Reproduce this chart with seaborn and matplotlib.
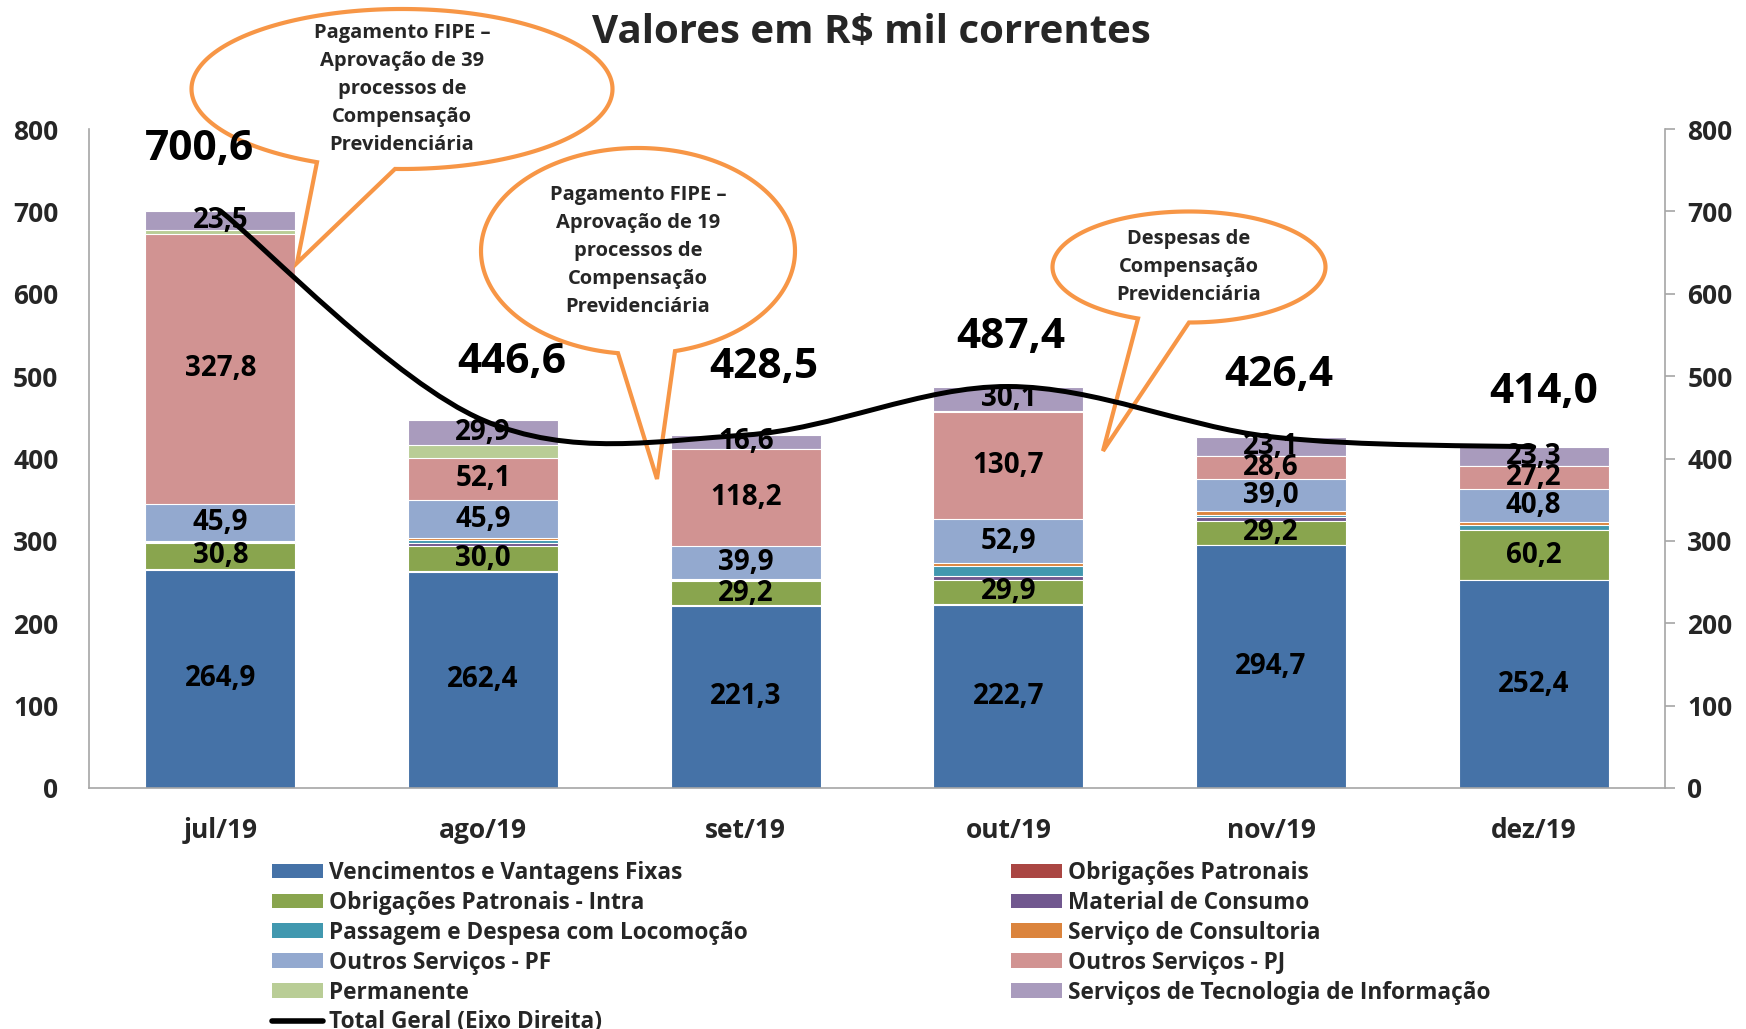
import numpy as np
import pandas as pd
import matplotlib
matplotlib.use("Agg")
import matplotlib.pyplot as plt
from matplotlib.path import Path
from matplotlib.patches import PathPatch, Polygon, Patch
from matplotlib.lines import Line2D
import seaborn as sns

# Data (R$ mil)
months = ["jul/19", "ago/19", "set/19", "out/19", "nov/19", "dez/19"]
vencimentos = [264.9, 262.4, 221.3, 222.7, 294.7, 252.4]
obrig_patronais = [1.5, 0.8, 0.5, 0.5, 0.6, 0.1]
obrig_intra = [30.8, 30.0, 29.2, 29.9, 29.2, 60.2]
material = [1.0, 4.5, 0.8, 4.8, 4.0, 0.0]
passagem = [0.5, 3.2, 0.8, 11.8, 3.2, 6.0]
consultoria = [0.7, 2.3, 1.0, 3.5, 4.0, 4.0]
outros_pf = [45.9, 45.9, 39.9, 52.9, 39.0, 40.8]
outros_pj = [327.8, 52.1, 118.2, 130.7, 28.6, 27.2]
permanente = [4.0, 15.5, 0.2, 0.5, 0.0, 0.0]
tec_info = [23.5, 29.9, 16.6, 30.1, 23.1, 23.3]
totals = [700.6, 446.6, 428.5, 487.4, 426.4, 414.0]

names = ["Vencimentos e Vantagens Fixas", "Obrigações Patronais",
         "Obrigações Patronais - Intra", "Material de Consumo",
         "Passagem e Despesa com Locomoção", "Serviço de Consultoria",
         "Outros Serviços - PF", "Outros Serviços - PJ", "Permanente",
         "Serviços de Tecnologia de Informação"]
colors = ["#4572A7", "#AA4643", "#89A54E", "#71588F", "#4198AF",
          "#DB843D", "#93A9CF", "#D19392", "#B9CD96", "#A99BBD"]
labeled = ["Vencimentos e Vantagens Fixas", "Obrigações Patronais - Intra",
           "Outros Serviços - PF", "Outros Serviços - PJ",
           "Serviços de Tecnologia de Informação"]

# where the total labels sit relative to each point (x in categories, y in R$ mil)
label_dx = [-0.08, 0.11, 0.07, 0.01, 0.03, 0.04]
label_dy = [74, 70, 82, 60, 74, 66]

df = pd.DataFrame(dict(zip(names, [vencimentos, obrig_patronais, obrig_intra, material,
                                    passagem, consultoria, outros_pf, outros_pj,
                                    permanente, tec_info])), index=months)
cum = df.cumsum(axis=1)


def fmt(v):
    return f"{v:.1f}".replace(".", ",")


sns.set_style("white")
plt.rcParams["font.family"] = ["Open Sans", "DejaVu Sans"]
plt.rcParams["font.weight"] = "bold"

W, H = 1746, 1029
fig = plt.figure(figsize=(W / 100, H / 100), dpi=100)
ax = fig.add_axes([89 / W, 1 - 788 / H, (1665 - 89) / W, (788 - 129) / H])

# stacked bars: draw cumulative totals from the top series down
for name, col in reversed(list(zip(names, colors))):
    sns.barplot(x=months, y=cum[name].values, color=col, saturation=1, width=0.57,
                edgecolor="white", linewidth=0.8, ax=ax)

for i in range(len(months)):
    for name in labeled:
        v = df[name].iloc[i]
        ax.text(i, cum[name].iloc[i] - v / 2, fmt(v), ha="center", va="center",
                fontsize=20, fontweight="bold", color="black")

ax.set_xlim(-0.5, 5.5)
ax.set_ylim(0, 800)
ax.set_yticks(range(0, 801, 100))
ax.set_xlabel("")
ax.set_ylabel("")
gray = "#A6A6A6"
for s in ["top", "right"]:
    ax.spines[s].set_visible(False)
for s in ["left", "bottom"]:
    ax.spines[s].set_color(gray)
    ax.spines[s].set_linewidth(1.2)
ax.tick_params(axis="y", length=0, pad=22, labelsize=19)
ax.tick_params(axis="x", length=0, pad=21, labelsize=19)

ax2 = ax.twinx()
ax2.set_zorder(20)
ax2.set_ylim(0, 800)
ax2.set_yticks(range(0, 801, 100))
for s in ["top", "left", "bottom"]:
    ax2.spines[s].set_visible(False)
ax2.spines["right"].set_color(gray)
ax2.spines["right"].set_linewidth(1.2)
ax2.tick_params(axis="y", length=7, width=1.2, color=gray, pad=9, labelsize=19)


# smoothed total line (Bezier through the monthly totals)
def smooth_path(xs, ys):
    verts, codes = [(xs[0], ys[0])], [Path.MOVETO]
    n = len(xs)
    for i in range(n - 1):
        xp, yp = (xs[i - 1], ys[i - 1]) if i > 0 else (xs[i], ys[i])
        xn, yn = (xs[i + 2], ys[i + 2]) if i + 2 < n else (xs[i + 1], ys[i + 1])
        c1 = (xs[i] + (xs[i + 1] - xp) / 6, ys[i] + (ys[i + 1] - yp) / 6)
        c2 = (xs[i + 1] - (xn - xs[i]) / 6, ys[i + 1] - (yn - ys[i]) / 6)
        verts += [c1, c2, (xs[i + 1], ys[i + 1])]
        codes += [Path.CURVE4] * 3
    return Path(verts, codes)


xs = list(range(len(months)))
ax2.add_patch(PathPatch(smooth_path(xs, totals), facecolor="none", edgecolor="black",
                        linewidth=3.6, capstyle="round", zorder=3))
for i, t in enumerate(totals):
    ax2.text(i + label_dx[i], t + label_dy[i], fmt(t), ha="center", va="center",
             fontsize=30.5, fontweight="bold", color="black")

# title
fig.text(871 / W, 1 - 43 / H, "Valores em R$ mil correntes", ha="center", va="baseline",
         fontsize=29, fontweight="bold")


# callouts (pixel coordinates from top-left)
def callout(cx, cy, w, h, xb1, xb2, tip, text):
    a, b = w / 2, h / 2
    t1 = np.arccos(np.clip((xb1 - cx) / a, -1, 1))
    t2 = np.arccos(np.clip((xb2 - cx) / a, -1, 1))
    t = np.linspace(t1, t2 + 2 * np.pi, 200)
    px = cx + a * np.cos(t)
    py = cy + b * np.sin(t)
    pts = list(zip(px, py)) + [tip]
    pts = [(x / W, 1 - y / H) for x, y in pts]
    fig.add_artist(Polygon(pts, closed=True, facecolor="white", edgecolor="#F79646",
                           linewidth=3, transform=fig.transFigure, zorder=10))
    fig.text(cx / W, 1 - cy / H, text, ha="center", va="center", fontsize=14.5,
             fontweight="bold", linespacing=1.52, zorder=11)


callout(402, 89, 421, 160, 317, 395, (297, 263),
        "Pagamento FIPE –\nAprovação de 39\nprocessos de\nCompensação\nPrevidenciária")
callout(638, 251, 314, 206, 618, 675, (657, 479),
        "Pagamento FIPE –\nAprovação de 19\nprocessos de\nCompensação\nPrevidenciária")
callout(1189, 267, 273, 111, 1138, 1189, (1103, 451),
        "Despesas de\nCompensação\nPrevidenciária")

# legend in two columns
handles = [Patch(facecolor=c, edgecolor="none") for c in colors]
labels = list(names)
handles.append(Line2D([], [], color="black", linewidth=4))
labels.append("Total Geral (Eixo Direita)")
left_idx = [0, 2, 4, 6, 8, 10]
right_idx = [1, 3, 5, 7, 9]
leg_kw = dict(loc="upper left", frameon=False, borderpad=0, borderaxespad=0,
              handlelength=2.25, handleheight=0.62, handletextpad=0.27,
              labelspacing=0.26, prop={"weight": "bold", "size": 16.3})
fig.legend([handles[i] for i in left_idx], [labels[i] for i in left_idx],
           bbox_to_anchor=(272 / W, 1 - 861 / H), **leg_kw)
fig.legend([handles[i] for i in right_idx], [labels[i] for i in right_idx],
           bbox_to_anchor=(1011 / W, 1 - 861 / H), **leg_kw)

fig.savefig("out.png", dpi=100)
